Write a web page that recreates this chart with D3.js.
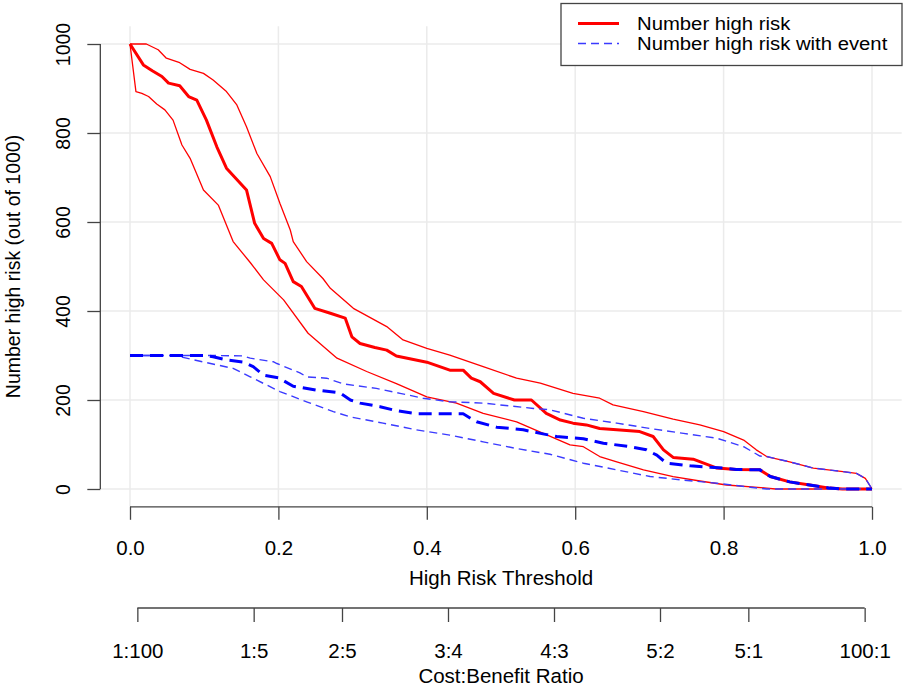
<!DOCTYPE html>
<html>
<head>
<meta charset="utf-8">
<script src="https://cdn.jsdelivr.net/npm/d3@7"></script>
<style>
  body { margin: 0; background: #fff; }
  text { font-family: "Liberation Sans", Arial, sans-serif; fill: #000; }
</style>
</head>
<body>
<script>
// Datos (umbral, número de 1000)
const highRisk = [[0,1000],[0.018,953],[0.03,940],[0.043,927],[0.052,912],[0.067,906],[0.079,882],[0.09,874],[0.103,829],[0.117,769],[0.13,721],[0.157,672],[0.168,597],[0.18,563],[0.191,552],[0.202,515],[0.209,507],[0.22,466],[0.231,455],[0.249,406],[0.27,395],[0.29,384],[0.299,342],[0.31,327],[0.33,318],[0.346,312],[0.359,299],[0.382,291],[0.4,285],[0.431,267],[0.449,267],[0.46,249],[0.472,241],[0.49,215],[0.518,200],[0.541,200],[0.561,170],[0.58,155],[0.597,148],[0.615,144],[0.633,136],[0.656,133],[0.687,129],[0.705,118],[0.719,88],[0.732,71],[0.759,67],[0.791,47],[0.817,44],[0.849,43],[0.863,28],[0.889,16],[0.916,9],[0.943,2],[0.96,0],[1,0]];
const highRiskUpper = [[0,1000],[0.022,1000],[0.038,987],[0.049,968],[0.067,958],[0.081,943],[0.099,934],[0.112,919],[0.13,893],[0.144,863],[0.157,814],[0.171,754],[0.189,702],[0.202,642],[0.216,582],[0.22,556],[0.238,511],[0.26,473],[0.27,451],[0.301,406],[0.346,365],[0.368,335],[0.4,316],[0.431,301],[0.476,275],[0.521,249],[0.553,238],[0.597,215],[0.633,204],[0.651,189],[0.692,174],[0.732,157],[0.768,144],[0.8,129],[0.827,110],[0.844,88],[0.858,73],[0.889,61],[0.921,47],[0.961,39],[0.979,35],[0.991,24],[1,0]];
const highRiskLower = [[0,1000],[0.008,893],[0.016,889],[0.025,882],[0.036,865],[0.047,852],[0.058,829],[0.07,773],[0.081,743],[0.099,672],[0.119,638],[0.139,556],[0.162,509],[0.18,470],[0.207,425],[0.24,350],[0.279,294],[0.319,264],[0.359,237],[0.4,207],[0.44,193],[0.476,170],[0.521,151],[0.557,125],[0.593,99],[0.611,95],[0.633,73],[0.656,61],[0.692,43],[0.732,28],[0.768,18],[0.804,9],[0.858,2],[0.87,0],[1,0]];
const withEvent = [[0,300],[0.103,300],[0.112,297],[0.13,290],[0.153,285],[0.166,275],[0.18,256],[0.2,250],[0.22,231],[0.252,222],[0.283,216],[0.297,200],[0.31,193],[0.337,185],[0.359,176],[0.386,169],[0.449,169],[0.467,151],[0.494,139],[0.53,133],[0.553,125],[0.575,118],[0.611,113],[0.638,103],[0.674,95],[0.696,88],[0.71,76],[0.723,58],[0.755,52],[0.782,49],[0.8,47],[0.817,44],[0.849,43],[0.863,28],[0.889,16],[0.916,9],[0.943,2],[0.96,0],[1,0]];
const withEventUpper = [[0,300],[0.112,300],[0.153,299],[0.162,294],[0.193,286],[0.198,282],[0.229,261],[0.238,252],[0.265,249],[0.288,236],[0.332,226],[0.364,215],[0.395,204],[0.431,196],[0.476,193],[0.544,181],[0.566,178],[0.611,159],[0.656,148],[0.701,136],[0.746,125],[0.791,114],[0.827,95],[0.849,74],[0.858,73],[0.889,61],[0.921,47],[0.961,39],[0.979,35],[0.991,24],[1,0]];
const withEventLower = [[0,300],[0.06,300],[0.076,294],[0.103,284],[0.139,271],[0.162,252],[0.202,219],[0.238,196],[0.274,174],[0.297,162],[0.341,148],[0.386,133],[0.431,121],[0.476,106],[0.521,91],[0.566,78],[0.611,58],[0.656,43],[0.701,28],[0.746,20],[0.791,13],[0.836,4],[0.858,0],[1,0]];

// Ejes
const xTicks = [0, 0.2, 0.4, 0.6, 0.8, 1.0];
const yTicks = [0, 200, 400, 600, 800, 1000];
const costLabels = ['1:100', '1:5', '2:5', '3:4', '4:3', '5:2', '5:1', '100:1'];
const costValues = [1/101, 1/6, 2/7, 3/7, 4/7, 5/7, 5/6, 100/101];
const legendLabels = ['Number high risk', 'Number high risk with event'];

const width = 905, height = 689;
const fontH = 20.5, fontV = 19.5;
const svg = d3.select('body').append('svg').attr('width', width).attr('height', height);

const x = d3.scaleLinear().domain([0, 1]).range([130, 872]);
const y = d3.scaleLinear().domain([0, 1000]).range([489, 44]);
// región del gráfico (4% extra como en R)
const plotLeft = x(-0.04), plotRight = x(1.04), plotTop = y(1040), plotBottom = y(-40);

// Rejilla
const grid = svg.append('g').attr('stroke', '#ebebeb').attr('stroke-width', 1.5);
grid.selectAll('line.v').data(xTicks).join('line').attr('class', 'v')
  .attr('x1', d => x(d)).attr('x2', d => x(d)).attr('y1', plotTop).attr('y2', plotBottom);
grid.selectAll('line.h').data(yTicks).join('line').attr('class', 'h')
  .attr('x1', plotLeft).attr('x2', plotRight).attr('y1', d => y(d)).attr('y2', d => y(d));

// Curvas
const line = d3.line().x(d => x(d[0])).y(d => y(d[1]));
const series = [
  { data: highRiskUpper, color: '#ff0000', w: 1.3, dash: null },
  { data: highRiskLower, color: '#ff0000', w: 1.3, dash: null },
  { data: highRisk, color: '#ff0000', w: 3, dash: null },
  { data: withEventUpper, color: '#3a3aff', w: 1.4, dash: '8,5' },
  { data: withEventLower, color: '#3a3aff', w: 1.4, dash: '8,5' },
  { data: withEvent, color: '#0000ff', w: 3, dash: '13,7' }
];
svg.append('g').selectAll('path').data(series).join('path')
  .attr('fill', 'none')
  .attr('stroke', d => d.color)
  .attr('stroke-width', d => d.w)
  .attr('stroke-dasharray', d => d.dash)
  .attr('stroke-linejoin', 'round')
  .attr('d', d => line(d.data));

// Estilo de eje al estilo R (línea de primer a último tick)
const styleAxis = (g, fontSize) => {
  g.select('.domain').remove();
  g.selectAll('.tick line').attr('stroke', '#444').attr('stroke-width', 1.3);
  g.selectAll('.tick text').attr('font-size', fontSize).attr('fill', '#000')
    .style('font-family', '"Liberation Sans", Arial, sans-serif');
};

// Eje X
const xAxis = svg.append('g').attr('transform', `translate(0,${plotBottom})`)
  .call(d3.axisBottom(x).tickValues(xTicks).tickFormat(d3.format('.1f')).tickSize(13).tickPadding(21));
styleAxis(xAxis, fontH);
xAxis.append('line').attr('x1', x(0)).attr('x2', x(1)).attr('stroke', '#444').attr('stroke-width', 1.3);

svg.append('text').attr('x', x(0.5)).attr('y', 585).attr('text-anchor', 'middle')
  .attr('font-size', fontH).text('High Risk Threshold');

// Eje coste:beneficio
const costAxis = svg.append('g').attr('transform', 'translate(0,608)')
  .call(d3.axisBottom(x).tickValues(costValues).tickFormat((d, i) => costLabels[i]).tickSize(14).tickPadding(21));
styleAxis(costAxis, fontH);
costAxis.append('line').attr('x1', x(costValues[0])).attr('x2', x(costValues[costValues.length - 1]))
  .attr('stroke', '#444').attr('stroke-width', 1.3);

svg.append('text').attr('x', x(0.5)).attr('y', 683).attr('text-anchor', 'middle')
  .attr('font-size', fontH).text('Cost:Benefit Ratio');

// Eje Y
const yAxis = svg.append('g').attr('transform', `translate(${plotLeft},0)`)
  .call(d3.axisLeft(y).tickValues(yTicks).tickFormat(d3.format('d')).tickSize(13));
styleAxis(yAxis, fontV);
yAxis.selectAll('.tick text')
  .attr('text-anchor', 'middle').attr('dy', 0).attr('x', 0).attr('y', -30)
  .attr('transform', 'rotate(-90)');
yAxis.append('line').attr('y1', y(0)).attr('y2', y(1000)).attr('stroke', '#444').attr('stroke-width', 1.3);

svg.append('text').attr('transform', `translate(20,${y(500)}) rotate(-90)`)
  .attr('text-anchor', 'middle').attr('font-size', fontV).text('Number high risk (out of 1000)');

// Leyenda
const legend = svg.append('g');
legend.append('rect').attr('x', 561).attr('y', 3.5).attr('width', 341).attr('height', 62)
  .attr('fill', '#fff').attr('stroke', '#444').attr('stroke-width', 1.3);
const legendStyles = [
  { color: '#ff0000', w: 3, dash: null },
  { color: '#3a3aff', w: 1.4, dash: '8,5' }
];
legendLabels.forEach((label, i) => {
  const ly = 23.5 + i * 20;
  legend.append('line').attr('x1', 578).attr('x2', 619).attr('y1', ly).attr('y2', ly)
    .attr('stroke', legendStyles[i].color).attr('stroke-width', legendStyles[i].w)
    .attr('stroke-dasharray', legendStyles[i].dash);
  legend.append('text').attr('transform', `translate(637,${ly + 6.5}) scale(1.16,1)`)
    .attr('font-size', 17.5).text(label);
});
</script>
</body>
</html>
